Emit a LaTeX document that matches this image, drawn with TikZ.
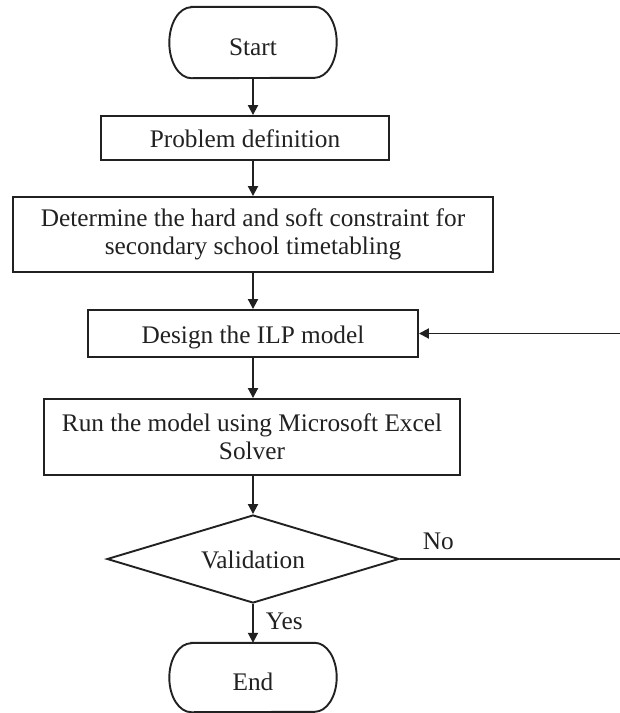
\documentclass[tikz,border=0pt]{standalone}
\usepackage{fontspec}
\setmainfont{Liberation Serif}
\usetikzlibrary{arrows.meta,shapes.geometric}
\definecolor{ink}{gray}{0.13}
\newcommand\stadiumoutline[3]{%
  \draw[ln] ([xshift=#2]#1.north west) -- ([xshift=-#2]#1.north east)
    arc[start angle=90,end angle=-90,x radius=#2,y radius=#3]
    -- ([xshift=#2]#1.south west)
    arc[start angle=270,end angle=90,x radius=#2,y radius=#3] -- cycle;}
\begin{document}
\begin{tikzpicture}[x=1pt,y=-1pt,
  ln/.style={draw=ink,line width=1.9pt},
  txt/.style={font=\fontsize{25.3pt}{28pt}\selectfont, text=ink, align=center, inner sep=0pt},
  boxed/.style={txt,ln,rectangle},
  one/.style={text height=19pt,text depth=0pt},
  term/.style={txt,rectangle,minimum width=167pt,text height=25pt,text depth=0pt},
  arr/.style={ln,-{Triangle[length=10pt,width=10pt]}},
  lbl/.style={font=\fontsize{25.3pt}{28pt}\selectfont,text=ink,inner sep=0pt}]
\useasboundingbox (0,0) rectangle (620,713);
\node[term,minimum height=71pt] (start) at (253,42.5) {Start};
\node[boxed,one,minimum width=288pt,minimum height=44pt] (prob) at (245,138) {Problem definition};
\node[boxed,minimum width=480pt,minimum height=75pt] (det) at (253,234.5) {Determine the hard and soft constraint for\\secondary school timetabling};
\node[boxed,one,minimum width=330pt,minimum height=47pt] (des) at (253,333.5) {Design the ILP model};
\node[boxed,minimum width=416pt,minimum height=76pt] (run) at (252,437) {Run the model using Microsoft Excel\\Solver};
\node[txt,one,ln,diamond,aspect=3.3,minimum width=292pt,minimum height=88pt] (val) at (253,559) {Validation};
\node[term,minimum height=69pt] (stop) at (253,677.5) {End};
\coordinate (loop) at (623,0);
\stadiumoutline{start}{22pt}{35.5pt}
\stadiumoutline{stop}{22pt}{34.5pt}
\draw[arr] (start.south) -- (start.south |- prob.north);
\draw[arr] (start.south |- prob.south) -- (det.north);
\draw[arr] (det.south) -- (des.north);
\draw[arr] (des.south) -- (des.south |- run.north);
\draw[arr] (des.south |- run.south) -- (val.north);
\draw[arr] (val.south) -- node[lbl,right=12pt,yshift=2.5pt]{Yes} (stop.north);
\draw[arr] (val.east) -- node[lbl,pos=0,anchor=south west,xshift=22pt,yshift=8pt]{No} (val.east -| loop) -- (des.east -| loop) -- (des.east);
\end{tikzpicture}
\end{document}
